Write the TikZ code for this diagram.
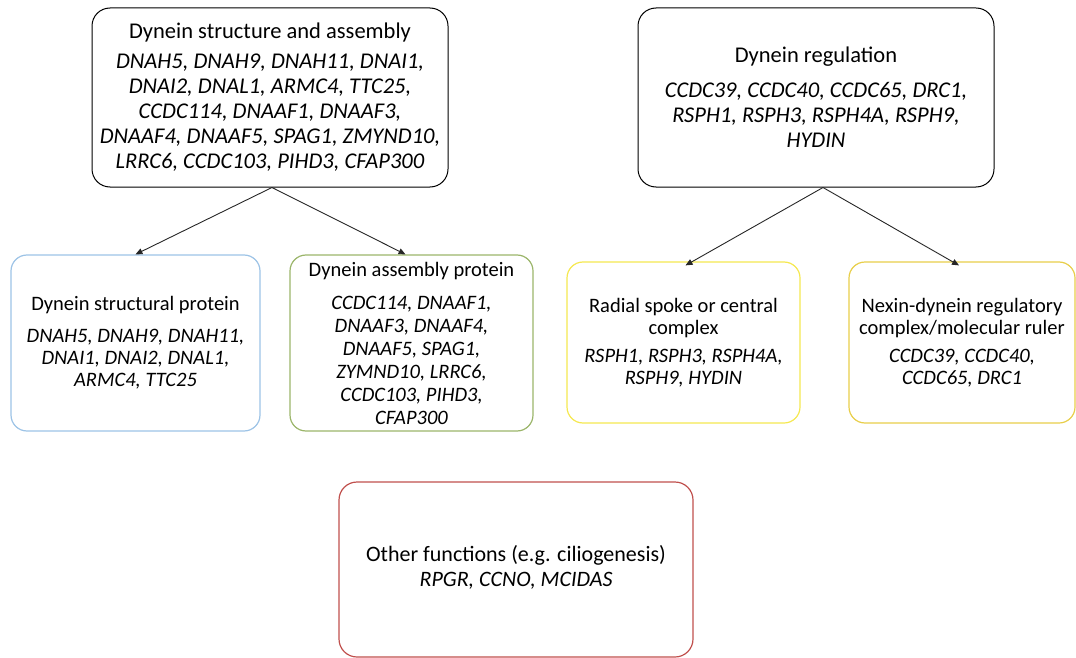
\documentclass[tikz,border=0pt]{standalone}
\usepackage{fontspec}
\setmainfont{Carlito}
\usetikzlibrary{arrows.meta}
\definecolor{cblue}{HTML}{9DC3E6}
\definecolor{cgreen}{HTML}{9BB56A}
\definecolor{cyellow}{HTML}{F5E850}
\definecolor{cgold}{HTML}{E8CE4A}
\definecolor{cred}{HTML}{C0504D}
\tikzset{
  bigbox/.style={draw=black, line width=1pt, rounded corners=18pt, inner sep=0pt, align=center,
    font=\fontsize{22.5}{25}\selectfont},
  smallbox/.style={rounded corners=16pt, line width=1.2pt, inner sep=0pt, align=center,
    font=\fontsize{20.5}{22}\selectfont},
  conn/.style={draw=black!85, line width=0.9pt, -{Triangle[length=7pt,width=6pt]}}
}
\begin{document}
\begin{tikzpicture}[x=1pt,y=-1pt]
\useasboundingbox (0,0) rectangle (1076,658);
\node[bigbox, minimum width=356pt, minimum height=179pt] (A) at (270,97.5)
  {Dynein structure and assembly\\[5pt]
   \itshape DNAH5, DNAH9, DNAH11, DNAI1,\\
   \itshape DNAI2, DNAL1, ARMC4, TTC25,\\
   \itshape CCDC114, DNAAF1, DNAAF3,\\
   \itshape DNAAF4, DNAAF5, SPAG1, ZMYND10,\\
   \itshape LRRC6, CCDC103, PIHD3, CFAP300};
\node[bigbox, minimum width=356pt, minimum height=179pt] (B) at (816,97.5)
  {Dynein regulation\\[10pt]
   \itshape CCDC39, CCDC40, CCDC65, DRC1,\\
   \itshape RSPH1, RSPH3, RSPH4A, RSPH9,\\
   \itshape HYDIN};
\node[smallbox, draw=cblue, minimum width=249pt, minimum height=176pt] (C) at (135.5,343)
  {Dynein structural protein\\[10pt]
   \itshape DNAH5, DNAH9, DNAH11,\\
   \itshape DNAI1, DNAI2, DNAL1,\\
   \itshape ARMC4, TTC25};
\node[smallbox, draw=cgreen, minimum width=243pt, minimum height=176pt,
  font=\fontsize{20.5}{23}\selectfont] (D) at (411.5,343)
  {Dynein assembly protein\\[10pt]
   \itshape CCDC114, DNAAF1,\\
   \itshape DNAAF3, DNAAF4,\\
   \itshape DNAAF5, SPAG1,\\
   \itshape ZYMND10, LRRC6,\\
   \itshape CCDC103, PIHD3,\\
   \itshape CFAP300};
\node[smallbox, draw=cyellow, minimum width=233pt, minimum height=161pt] (E) at (683.5,342.5)
  {Radial spoke or central\\complex\\[6pt]
   \itshape RSPH1, RSPH3, RSPH4A,\\
   \itshape RSPH9, HYDIN};
\node[smallbox, draw=cgold, minimum width=226pt, minimum height=161pt] (F) at (962,342.5)
  {Nexin-dynein regulatory\\complex/molecular ruler\\[6pt]
   \itshape CCDC39, CCDC40,\\
   \itshape CCDC65, DRC1};
\node[smallbox, draw=cred, rounded corners=18pt, minimum width=354pt, minimum height=175pt,
  font=\fontsize{22}{25}\selectfont] (G) at (516,569.5)
  {Other functions (e.g. ciliogenesis)\\
   \itshape RPGR, CCNO, MCIDAS\rule[-7pt]{0pt}{7pt}};
\draw[conn] ([xshift=2pt]A.south) -- (C.north);
\draw[conn] ([xshift=2pt]A.south) -- ([xshift=-6pt]D.north);
\draw[conn] ([xshift=7pt]B.south) -- ([xshift=2pt,yshift=-4pt]E.north);
\draw[conn] ([xshift=7pt]B.south) -- ([xshift=-3pt,yshift=-4pt]F.north);
\end{tikzpicture}
\end{document}
